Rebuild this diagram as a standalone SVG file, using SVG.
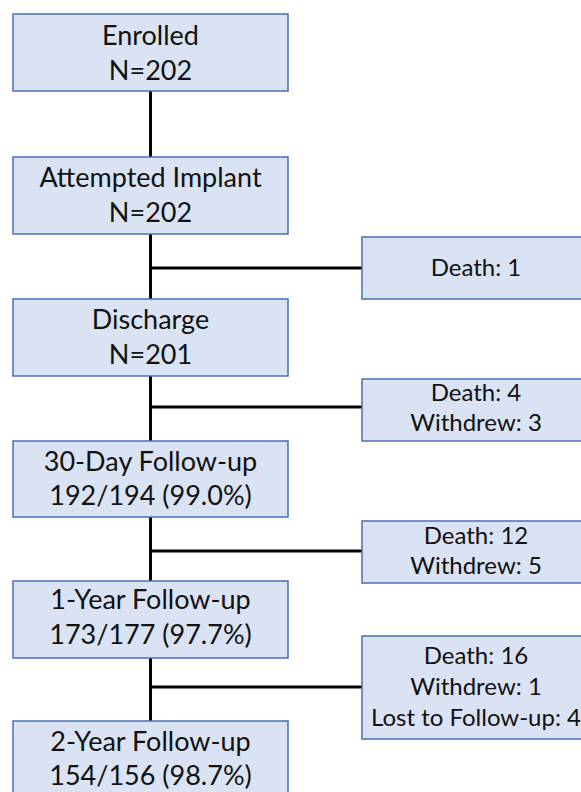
<svg xmlns="http://www.w3.org/2000/svg" width="581" height="792" viewBox="0 0 581 792">
<style>
.box{fill:#dae3f3;stroke:#4a6fb5;stroke-width:1.5}
.main{font-family:Lato,"Liberation Sans",sans-serif;font-size:27px;fill:#111;text-anchor:middle}
.side{font-family:Lato,"Liberation Sans",sans-serif;font-size:24px;fill:#111;text-anchor:middle}
.conn{stroke:#000;stroke-width:3;fill:none}
</style>
<rect width="581" height="792" fill="#fff"/>
<g id="connectors">
<line class="conn" x1="150.5" y1="91" x2="150.5" y2="157"/>
<line class="conn" x1="150.5" y1="234" x2="150.5" y2="299"/>
<line class="conn" x1="150.5" y1="376" x2="150.5" y2="441"/>
<line class="conn" x1="150.5" y1="517" x2="150.5" y2="581"/>
<line class="conn" x1="150.5" y1="658" x2="150.5" y2="721"/>
<line class="conn" x1="150.5" y1="268" x2="362" y2="268"/>
<line class="conn" x1="150.5" y1="407" x2="362" y2="407"/>
<line class="conn" x1="150.5" y1="551" x2="362" y2="551"/>
<line class="conn" x1="150.5" y1="687" x2="362" y2="687"/>
</g>
<g id="enrolled">
<rect class="box" x="13" y="14" width="275" height="77"/>
<text class="main" x="150.5" y="45">Enrolled</text>
<text class="main" x="150.5" y="80">N=202</text>
</g>
<g id="attempted">
<rect class="box" x="13" y="157" width="275" height="77"/>
<text class="main" x="150.5" y="187">Attempted Implant</text>
<text class="main" x="150.5" y="221.5">N=202</text>
</g>
<g id="discharge">
<rect class="box" x="13" y="299" width="275" height="77"/>
<text class="main" x="150.5" y="329">Discharge</text>
<text class="main" x="150.5" y="363.5">N=201</text>
</g>
<g id="day30">
<rect class="box" x="13" y="441" width="275" height="76"/>
<text class="main" x="150.5" y="470.5">30-Day Follow-up</text>
<text class="main" x="150.5" y="504.5">192/194 (99.0%)</text>
</g>
<g id="year1">
<rect class="box" x="13" y="581" width="275" height="77"/>
<text class="main" x="150.5" y="609">1-Year Follow-up</text>
<text class="main" x="150.5" y="643.5">173/177 (97.7%)</text>
</g>
<g id="year2">
<rect class="box" x="13" y="721" width="275" height="77"/>
<text class="main" x="150.5" y="750.5">2-Year Follow-up</text>
<text class="main" x="150.5" y="785">154/156 (98.7%)</text>
</g>
<g id="death1">
<rect class="box" x="362" y="237" width="228" height="62"/>
<text class="side" x="476" y="276">Death: 1</text>
</g>
<g id="death4">
<rect class="box" x="362" y="379" width="228" height="62"/>
<text class="side" x="476" y="401">Death: 4</text>
<text class="side" x="476" y="431">Withdrew: 3</text>
</g>
<g id="death12">
<rect class="box" x="362" y="521" width="228" height="62"/>
<text class="side" x="476" y="544">Death: 12</text>
<text class="side" x="476" y="574">Withdrew: 5</text>
</g>
<g id="death16">
<rect class="box" x="362" y="636" width="228" height="103"/>
<text class="side" x="476" y="664">Death: 16</text>
<text class="side" x="476" y="695">Withdrew: 1</text>
<text class="side" x="476" y="726">Lost to Follow-up: 4</text>
</g>
</svg>
